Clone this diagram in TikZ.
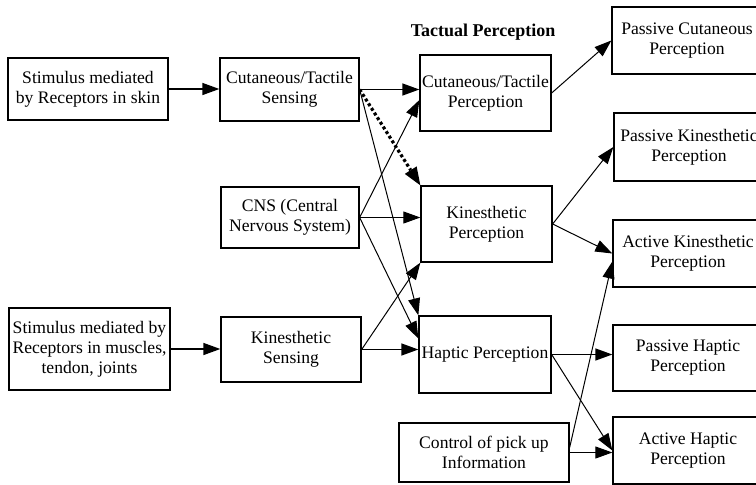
\documentclass[tikz,border=0pt]{standalone}
\usepackage{fontspec}
\setmainfont{Liberation Serif}
\usetikzlibrary{arrows.meta}
\begin{document}
\begin{tikzpicture}[x=1pt,y=-1pt,
  box/.style={draw,line width=1.3pt,inner sep=0pt,align=center,font=\fontsize{17.6}{20}\selectfont},
  arr/.style={line width=1.4pt,-{Triangle[length=17pt,width=12pt]}},
  thin/.style={line width=1pt,-{Triangle[length=17pt,width=12pt]}},
  dotarr/.style={line width=3.2pt,dash pattern=on 3pt off 2.5pt,-{Triangle[length=18pt,width=14pt,line width=0pt]}}]
\useasboundingbox (0,0) rectangle (756,485);
% left column
\node[box,minimum width=160pt,minimum height=62pt] (b1) at (88,89) {Stimulus mediated\\by Receptors in skin};
\node[box,minimum width=161pt,minimum height=82pt] (b2) at (89.5,349) {Stimulus mediated by\\Receptors in muscles,\\tendon, joints};
% second column
\node[box,minimum width=139pt,minimum height=63pt] (cs) at (289.5,89.5) {Cutaneous/Tactile\\Sensing};
\node[box,minimum width=138pt,minimum height=61pt] (cns) at (290,217.5) {CNS (Central\\Nervous System)};
\node[box,minimum width=140pt,minimum height=65pt] (ks) at (291,349.5) {Kinesthetic\\Sensing};
% third column
\node[font=\bfseries\fontsize{18}{20}\selectfont] (tp) at (483,32) {Tactual Perception};
\node[box,minimum width=131pt,minimum height=76pt] (cp) at (485.5,93) {Cutaneous/Tactile\\Perception};
\node[box,minimum width=131pt,minimum height=76pt] (kp) at (486.5,224) {Kinesthetic\\Perception};
\node[box,minimum width=132pt,minimum height=77pt] (hp) at (485,354.5) {Haptic Perception};
\node[box,minimum width=170pt,minimum height=59pt] (ctrl) at (484,452.5) {Control of pick up\\Information};
% right column
\node[box,minimum width=150pt,minimum height=67pt] (pc) at (687,40.5) {Passive Cutaneous\\Perception};
\node[box,minimum width=150pt,minimum height=68pt] (pk) at (689,147) {Passive Kinesthetic\\Perception};
\node[box,minimum width=150pt,minimum height=67pt] (ak) at (688,253.5) {Active Kinesthetic\\Perception};
\node[box,minimum width=150pt,minimum height=66pt] (ph) at (688,358) {Passive Haptic\\Perception};
\node[box,minimum width=150pt,minimum height=67pt] (ah) at (688,450.5) {Active Haptic\\Perception};
% connectors
\draw[arr] (b1.east) -- (cs.west |- b1.east);
\draw[arr] (b2.east) -- (ks.west |- b2.east);
\draw[arr] (cs.east) -- (cp.west |- cs.east);
\draw[dotarr] (cs.east) -- (kp.north west);
\draw[thin] (cs.east) -- (hp.north west);
\draw[thin] (cns.east) -- ([yshift=-7pt]cp.west);
\draw[thin] (cns.east) -- (kp.west |- cns.east);
\draw[thin] (cns.east) -- ([yshift=16pt]hp.west);
\draw[thin] (ks.east) -- (kp.south west);
\draw[arr] (ks.east) -- (hp.west |- ks.east);
\draw[thin] (cp.east) -- (pc.west);
\draw[thin] (kp.east) -- (pk.west);
\draw[thin] (kp.east) -- (ak.west);
\draw[arr] (hp.east) -- (ph.west |- hp.east);
\draw[thin] (hp.east) -- (ah.west);
\draw[thin] (ctrl.east) -- (ah.west |- ctrl.east);
\draw[thin] ([yshift=5pt]ctrl.east) -- ([yshift=-8pt]ak.west);
\end{tikzpicture}
\end{document}
